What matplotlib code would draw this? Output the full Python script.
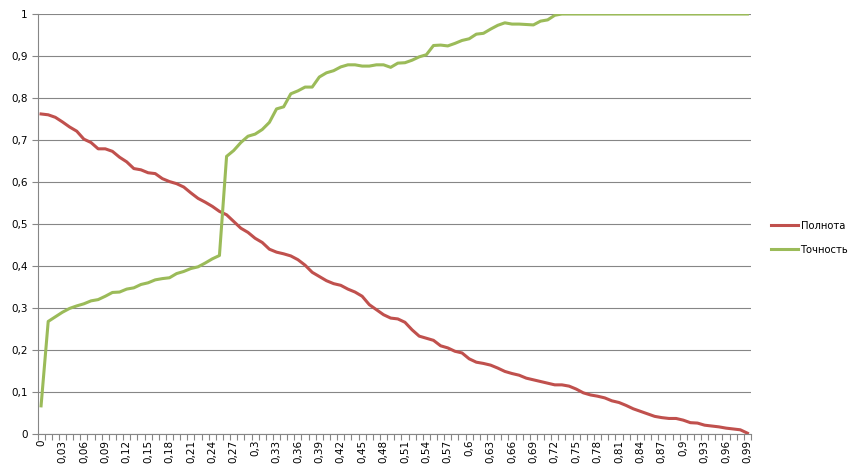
import numpy as np
import matplotlib
matplotlib.use('Agg')
import matplotlib.pyplot as plt

# thresholds 0 .. 0.99
thresholds = [round(i * 0.01, 2) for i in range(100)]

recall = [0.762, 0.760, 0.754, 0.743, 0.731, 0.721, 0.702, 0.694, 0.679, 0.679,
          0.673, 0.659, 0.648, 0.632, 0.629, 0.622, 0.620, 0.608, 0.601, 0.596,
          0.588, 0.574, 0.561, 0.552, 0.542, 0.530, 0.522, 0.506, 0.490, 0.480,
          0.466, 0.456, 0.440, 0.433, 0.429, 0.424, 0.415, 0.402, 0.385, 0.375,
          0.365, 0.358, 0.354, 0.345, 0.338, 0.328, 0.308, 0.296, 0.284, 0.276,
          0.274, 0.266, 0.248, 0.233, 0.228, 0.223, 0.210, 0.205, 0.197, 0.193,
          0.179, 0.171, 0.168, 0.164, 0.157, 0.149, 0.144, 0.140, 0.133, 0.129,
          0.125, 0.121, 0.117, 0.117, 0.114, 0.107, 0.098, 0.093, 0.090, 0.086,
          0.079, 0.075, 0.068, 0.060, 0.054, 0.048, 0.042, 0.039, 0.037, 0.037,
          0.033, 0.027, 0.026, 0.021, 0.019, 0.017, 0.014, 0.012, 0.010, 0.002]

precision = [0.067, 0.268, 0.279, 0.290, 0.299, 0.305, 0.310, 0.317, 0.320, 0.328,
             0.337, 0.338, 0.345, 0.348, 0.356, 0.360, 0.367, 0.370, 0.372, 0.382,
             0.387, 0.394, 0.398, 0.407, 0.417, 0.425, 0.661, 0.675, 0.694, 0.709,
             0.714, 0.725, 0.742, 0.774, 0.779, 0.810, 0.817, 0.826, 0.826, 0.850,
             0.860, 0.865, 0.874, 0.879, 0.879, 0.876, 0.876, 0.879, 0.879, 0.873,
             0.883, 0.884, 0.890, 0.898, 0.903, 0.925, 0.926, 0.924, 0.930, 0.937,
             0.941, 0.952, 0.954, 0.964, 0.973, 0.979, 0.976, 0.976, 0.975, 0.974,
             0.983, 0.986, 0.997, 1.0, 1.0, 1.0, 1.0, 1.0, 1.0, 1.0,
             1.0, 1.0, 1.0, 1.0, 1.0, 1.0, 1.0, 1.0, 1.0, 1.0,
             1.0, 1.0, 1.0, 1.0, 1.0, 1.0, 1.0, 1.0, 1.0, 1.0]

labels = ['Полнота', 'Точность']
colors = ['#C0504D', '#9BBB59']

def comma(v):
    s = ('%.2f' % v).rstrip('0').rstrip('.')
    return s.replace('.', ',')

fig = plt.figure(figsize=(8.64, 4.75), dpi=100)
ax = fig.add_axes([37.5/864, 1-434/475, (751-37.5)/864, 420/475])

x = np.arange(len(thresholds))
ax.plot(x, recall, color=colors[0], linewidth=2.2, label=labels[0], zorder=3)
ax.plot(x, precision, color=colors[1], linewidth=2.2, label=labels[1], zorder=3)

ax.set_xlim(-0.5, len(thresholds) - 0.5)
ax.set_ylim(0, 1)

yt = np.arange(0, 1.01, 0.1)
ax.set_yticks(yt)
ax.set_yticklabels([comma(v) for v in yt], fontsize=7.5)
ax.yaxis.grid(True, color='#868686', linewidth=0.8)
ax.set_axisbelow(True)

# category labels every 3rd, tick marks between categories
ax.set_xticks(x[::3])
ax.set_xticklabels([comma(thresholds[i]) for i in x[::3]], rotation=90, fontsize=7.5)
ax.set_xticks(np.arange(-0.5, len(thresholds)), minor=True)
ax.tick_params(axis='x', which='major', length=0, pad=4)
ax.tick_params(axis='x', which='minor', length=4, color='#868686', width=0.8)
ax.tick_params(axis='y', length=4, color='#868686', width=0.8, pad=3)

for side in ['top', 'right']:
    ax.spines[side].set_visible(False)
for side in ['left', 'bottom']:
    ax.spines[side].set_color('#868686')
    ax.spines[side].set_linewidth(0.8)

fig.legend(loc='center left', bbox_to_anchor=(762/864, 0.499), frameon=False,
           fontsize=7.2, handlelength=2.7, handletextpad=0.25, labelspacing=1.4)

fig.savefig('out.png', dpi=100)
